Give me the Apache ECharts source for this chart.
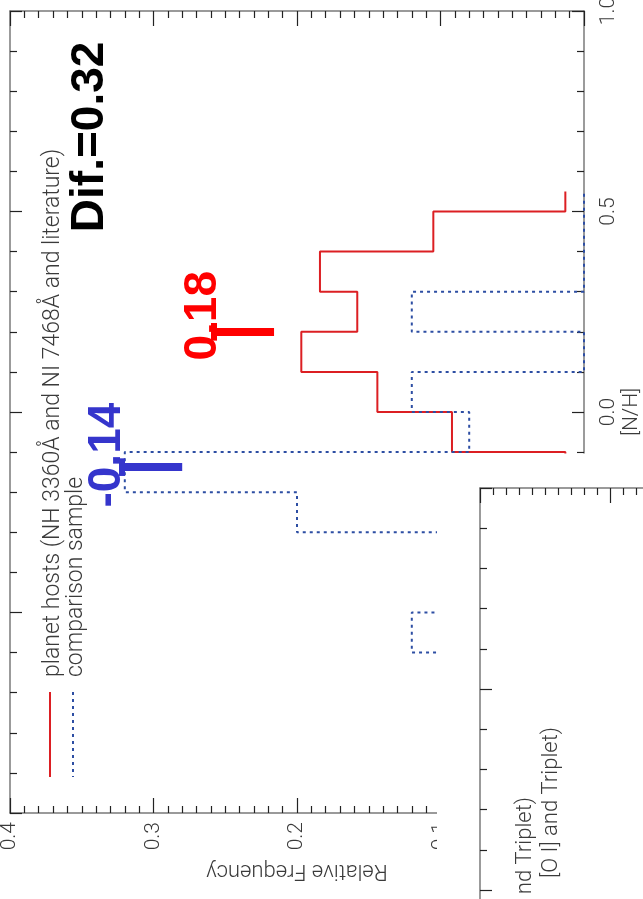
<!DOCTYPE html>
<html><head><meta charset="utf-8">
<script src="https://cdn.jsdelivr.net/npm/echarts@6/dist/echarts.min.js"></script>
<style>html,body{margin:0;padding:0;background:#fff}#c{width:643px;height:899px}</style>
</head><body><div id="c"></div>
<script>
// ---- data ----
const nhCenters   = [-0.15, -0.05, 0.05, 0.15, 0.25, 0.35, 0.45, 0.55];
const hostFreq    = [0.013, 0.092, 0.144, 0.197, 0.158, 0.184, 0.105, 0.013];
const compCenters = [-0.65, -0.55, -0.45, -0.35, -0.25, -0.15, -0.05, 0.05, 0.15, 0.25, 0.35, 0.45, 0.55];
const compFreq    = [0, 0.12, 0, 0.04, 0.2, 0.32, 0.08, 0.12, 0, 0.12, 0, 0, 0];
const freqTickLabels = ['0.0', '0.1', '0.2', '0.3', '0.4'];
const nhTickLabels   = ['-1.0', '-0.5', '0.0', '0.5', '1.0'];
const meanLabels = ['0.18', '-0.14'];
const meanNH     = [0.2, -0.1375];
const meanTop    = [0.256, 0.32];
const meanLen    = 0.04;
const difLabel   = 'Dif.=0.32';
const legendNames  = ['planet hosts (NH 3360Å and NI 7468Å and literature)', 'comparison sample'];
const panel2Legend = ['nd Triplet)', '[O I] and Triplet)'];

// ---- styles ----
const RED = '#dc1f23', BLUE = '#2d4ea3';
const TXT = '#3a3a3a';
const FONT = 'Roboto, "Liberation Sans", sans-serif';
const BOLD = '"Liberation Sans", Arial, sans-serif';

function steps(c, v) {
  const pts = [[v[0], c[0]]];
  for (let i = 1; i < c.length; i++) {
    const m = (c[i - 1] + c[i]) / 2;
    pts.push([v[i - 1], m], [v[i], m]);
  }
  pts.push([v[v.length - 1], c[c.length - 1]]);
  return pts;
}

const axLine = { show: true, onZero: false, lineStyle: { color: '#7a7a7a', width: 1.5 } };
const tickStyle = { color: '#222', width: 1.2 };

function freqAxis(grid, pos, showLabel, extra) {
  return Object.assign({
    gridIndex: grid, type: 'value', min: 0, max: 0.4, interval: 0.1, inverse: true, position: pos,
    axisLine: axLine,
    axisTick: { show: true, inside: true, length: 15, lineStyle: tickStyle },
    minorTick: { show: true, splitNumber: 10, length: 7, lineStyle: tickStyle },
    splitLine: { show: false }, minorSplitLine: { show: false },
    axisLabel: showLabel ? {
      show: true, rotate: 90, margin: 9, fontSize: 21, color: TXT, fontFamily: FONT, fontWeight: 300,
      formatter: v => freqTickLabels[Math.round(v * 10)]
    } : { show: false }
  }, extra || {});
}
function nhAxis(grid, pos, showLabel, extra) {
  return Object.assign({
    gridIndex: grid, type: 'value', min: -1, max: 1, interval: 0.5, position: pos,
    axisLine: axLine,
    axisTick: { show: true, inside: true, length: 12, lineStyle: tickStyle },
    minorTick: { show: true, splitNumber: 5, length: 7, lineStyle: tickStyle },
    splitLine: { show: false }, minorSplitLine: { show: false },
    axisLabel: showLabel ? {
      show: true, rotate: 90, margin: 14, fontSize: 21, color: TXT, fontFamily: FONT, fontWeight: 300,
      formatter: v => nhTickLabels[Math.round((v + 1) * 2)]
    } : { show: false }
  }, extra || {});
}

const annStyle = { fontSize: 46, fontWeight: 'bold', fontFamily: BOLD, textBorderWidth: 0, textShadowBlur: 0, opacity: 1 };

const option = {
  animation: false,
  backgroundColor: '#fff',
  grid: [
    { left: 10, top: 11, width: 574, height: 802, outerBoundsMode: 'none', containLabel: false },
    { left: 480, top: 488, width: 650, height: 603, outerBoundsMode: 'none', containLabel: false }
  ],
  xAxis: [
    freqAxis(0, 'bottom', true, {
      name: 'Relative Frequency', nameLocation: 'middle', nameRotate: 180, nameGap: 46, nameMoveOverlap: false,
      nameTextStyle: { fontSize: 22, color: TXT, fontFamily: FONT, fontWeight: 300 }
    }),
    freqAxis(0, 'top', false),
    freqAxis(1, 'top', false, { max: 0.5, z: 20 })
  ],
  yAxis: [
    nhAxis(0, 'right', true, {
      name: '[N/H]', nameLocation: 'middle', nameRotate: 90, nameGap: 37, nameMoveOverlap: false,
      nameTextStyle: { fontSize: 21, color: TXT, fontFamily: FONT, fontWeight: 300 }
    }),
    nhAxis(0, 'left', false),
    nhAxis(1, 'left', false, { min: -1, max: 0.5, z: 20 })
  ],
  series: [
    {
      type: 'line', xAxisIndex: 0, yAxisIndex: 0, data: steps(nhCenters, hostFreq),
      symbol: 'none', lineStyle: { color: RED, width: 2 }, z: 3
    },
    {
      type: 'line', xAxisIndex: 0, yAxisIndex: 0, data: steps(compCenters, compFreq),
      symbol: 'none', lineStyle: { color: BLUE, width: 2, type: [3, 4] }, z: 3
    },
    {
      type: 'lines', coordinateSystem: 'cartesian2d', xAxisIndex: 0, yAxisIndex: 0, z: 4,
      data: meanNH.flatMap((nh, i) => {
        const col = i === 0 ? '#ff0000' : '#3535cc';
        return [
          { coords: [[meanTop[i], nh], [meanTop[i] - meanLen, nh]], lineStyle: { color: col, width: 8, opacity: 1 } },
          { coords: [[meanTop[i] + 0.002, nh - 0.022], [meanTop[i] + 0.002, nh + 0.022]], lineStyle: { color: col, width: 6, opacity: 1 } }
        ];
      })
    },
    {
      type: 'scatter', xAxisIndex: 0, yAxisIndex: 0, symbolSize: 0.5, z: 5,
      itemStyle: { color: '#fff', opacity: 1 }, symbol: 'rect',
      labelLayout: { hideOverlap: false },
      label: Object.assign({ show: true, position: 'inside', rotate: 90 }, annStyle),
      data: [
        { value: [0.3439, 0.686], label: { formatter: difLabel, color: '#000' } },
        { value: [0.2655, 0.24], label: { formatter: meanLabels[0], color: '#ff0000' } },
        { value: [0.3324, -0.1075], label: { formatter: meanLabels[1], color: '#3535cc' } }
      ]
    }
  ],
  graphic: [
    // legend of panel 1
    { type: 'line', z: 5, shape: { x1: 50, y1: 692, x2: 50, y2: 777 }, style: { stroke: RED, lineWidth: 2 } },
    { type: 'line', z: 5, shape: { x1: 73, y1: 692, x2: 73, y2: 777 }, style: { stroke: BLUE, lineWidth: 2, lineDash: [3, 4] } },
    { type: 'text', z: 5, x: 53, y: 677, rotation: Math.PI / 2,
      style: { text: legendNames[0], fontSize: 23, fontFamily: FONT, fontWeight: 300, fill: TXT, align: 'left', verticalAlign: 'middle' } },
    { type: 'text', z: 5, x: 76, y: 677, rotation: Math.PI / 2,
      style: { text: legendNames[1], fontSize: 23, fontFamily: FONT, fontWeight: 300, fill: TXT, align: 'left', verticalAlign: 'middle' } },
    // overlapping second panel (white sheet)
    { type: 'rect', z: 10, shape: { x: 437, y: 453.5, width: 210, height: 450 }, style: { fill: '#fff' } },
    { type: 'text', z: 21, x: 525, y: 797, rotation: Math.PI / 2,
      style: { text: panel2Legend[0], fontSize: 22, fontFamily: FONT, fontWeight: 300, fill: TXT, align: 'right', verticalAlign: 'middle' } },
    { type: 'text', z: 21, x: 551, y: 727, rotation: Math.PI / 2,
      style: { text: panel2Legend[1], fontSize: 22, fontFamily: FONT, fontWeight: 300, fill: TXT, align: 'right', verticalAlign: 'middle' } }
  ]
};

const chart = echarts.init(document.getElementById('c'), null, { renderer: 'canvas' });
chart.setOption(option);
</script>
</body></html>
